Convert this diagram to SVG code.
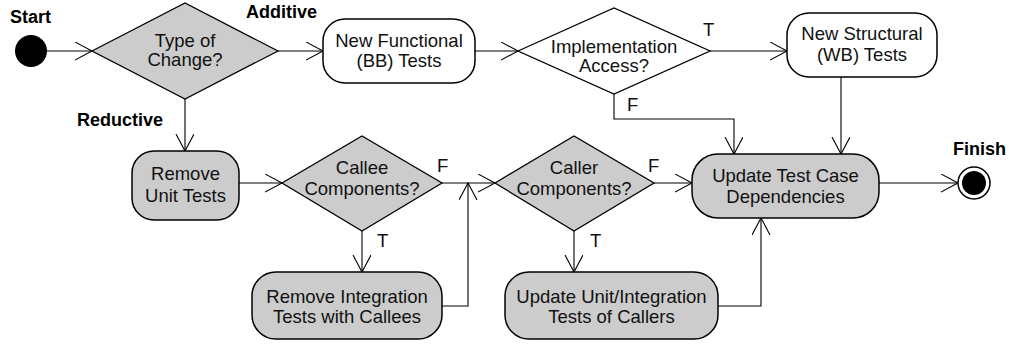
<svg xmlns="http://www.w3.org/2000/svg" width="1009" height="347" viewBox="0 0 1009 347">
<style>
.t{font-family:"Liberation Sans",Arial,sans-serif;font-size:18.5px;fill:#111;text-anchor:middle}
.l{font-family:"Liberation Sans",Arial,sans-serif;font-size:18.5px;fill:#111}
.b{font-family:"Liberation Sans",Arial,sans-serif;font-size:18px;font-weight:bold;fill:#000}
.act{fill:#fff;stroke:#000;stroke-width:1.5}
.actg{fill:#cccccc;stroke:#000;stroke-width:1.5}
.dec{fill:#cccccc;stroke:#000;stroke-width:1.3}
.c{fill:none;stroke:#000;stroke-width:1.1}
</style>
<defs>
<marker id="a" markerUnits="userSpaceOnUse" markerWidth="20" markerHeight="20" refX="17" refY="9" orient="auto">
<path d="M0,0 L17,9 L0,18" fill="none" stroke="#000" stroke-width="1.1"/>
</marker>
</defs>
<g id="connectors">
<path class="c" d="M47,51 H92" marker-end="url(#a)"/>
<path class="c" d="M278,51 H323" marker-end="url(#a)"/>
<path class="c" d="M475,51 H518" marker-end="url(#a)"/>
<path class="c" d="M710,51 H787" marker-end="url(#a)"/>
<path class="c" d="M614,94 V119 H734 V154" marker-end="url(#a)"/>
<path class="c" d="M841,77 V154" marker-end="url(#a)"/>
<path class="c" d="M185,99 V151" marker-end="url(#a)"/>
<path class="c" d="M239,183 H282" marker-end="url(#a)"/>
<path class="c" d="M442,183 H495" marker-end="url(#a)"/>
<path class="c" d="M362,231 V272" marker-end="url(#a)"/>
<path class="c" d="M442,306 H468 V183" marker-end="url(#a)"/>
<path class="c" d="M654,183 H692" marker-end="url(#a)"/>
<path class="c" d="M574,231 V272" marker-end="url(#a)"/>
<path class="c" d="M718,306 H761 V218" marker-end="url(#a)"/>
<path class="c" d="M879,183 H958" marker-end="url(#a)"/>
<text class="l" x="703" y="36">T</text>
<text class="l" x="627" y="111">F</text>
<text class="l" x="437" y="172">F</text>
<text class="l" x="648" y="172">F</text>
<text class="l" x="377" y="247">T</text>
<text class="l" x="590" y="247">T</text>
<text class="b" x="246" y="18">Additive</text>
<text class="b" x="77" y="126">Reductive</text>
</g>
<g id="start">
<circle cx="31" cy="51" r="16" fill="#000"/>
<text class="b" x="10" y="23">Start</text>
</g>
<g id="typeOfChange">
<polygon class="dec" points="92,51 185,3 278,51 185,99"/>
<text class="t" x="185" y="47">Type of</text>
<text class="t" x="185" y="66">Change?</text>
</g>
<g id="newFunctional">
<rect class="act" x="323" y="19" width="152" height="64" rx="22"/>
<text class="t" x="399" y="47">New Functional</text>
<text class="t" x="399" y="67">(BB) Tests</text>
</g>
<g id="implAccess">
<polygon class="dec" points="518,51 614,8 710,51 614,94" fill="#fff" style="fill:#fff"/>
<text class="t" x="614" y="53">Implementation</text>
<text class="t" x="614" y="72">Access?</text>
</g>
<g id="newStructural">
<rect class="act" x="787" y="13" width="150" height="64" rx="22"/>
<text class="t" x="862" y="40">New Structural</text>
<text class="t" x="862" y="61">(WB) Tests</text>
</g>
<g id="removeUnit">
<rect class="actg" x="132" y="151" width="107" height="69" rx="22"/>
<text class="t" x="185.5" y="180">Remove</text>
<text class="t" x="185.5" y="202">Unit Tests</text>
</g>
<g id="callee">
<polygon class="dec" points="282,183 362,136 442,183 362,231"/>
<text class="t" x="362" y="174">Callee</text>
<text class="t" x="362" y="195">Components?</text>
</g>
<g id="caller">
<polygon class="dec" points="495,183 574,136 654,183 574,231"/>
<text class="t" x="574" y="174">Caller</text>
<text class="t" x="574" y="195">Components?</text>
</g>
<g id="updateDeps">
<rect class="actg" x="692" y="154" width="187" height="64" rx="26"/>
<text class="t" x="785.5" y="182">Update Test Case</text>
<text class="t" x="785.5" y="203">Dependencies</text>
</g>
<g id="removeIntegration">
<rect class="actg" x="252" y="272" width="190" height="67" rx="24"/>
<text class="t" x="347" y="303">Remove Integration</text>
<text class="t" x="347" y="323">Tests with Callees</text>
</g>
<g id="updateUnit">
<rect class="actg" x="505" y="272" width="213" height="67" rx="24"/>
<text class="t" x="611.5" y="303">Update Unit/Integration</text>
<text class="t" x="611.5" y="323">Tests of Callers</text>
</g>
<g id="finish">
<circle cx="974" cy="183" r="16" fill="#fff" stroke="#000" stroke-width="1.5"/>
<circle cx="974" cy="183" r="12" fill="#000"/>
<text class="b" x="953" y="155">Finish</text>
</g>
</svg>
